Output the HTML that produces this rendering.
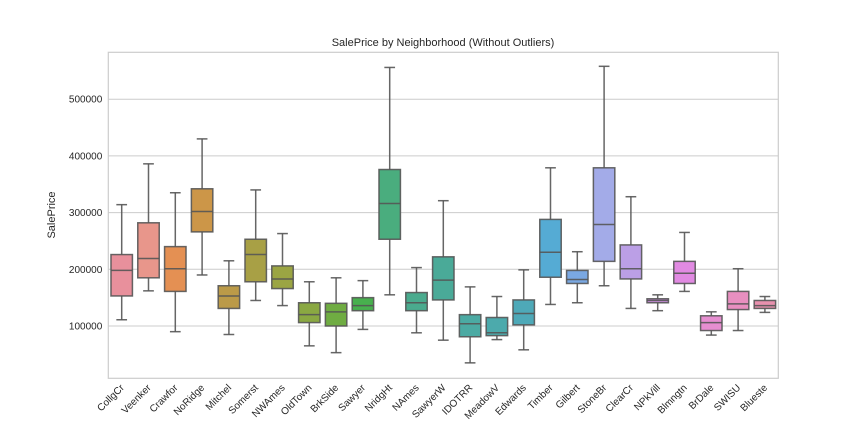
<!DOCTYPE html>
<html><head><meta charset="utf-8"><style>
body{margin:0;background:#fff;}
svg{display:block;font-family:"Liberation Sans",Arial,sans-serif;}
</style></head><body>
<svg id="chart" width="864" height="432"></svg>
<script>
const categories=["CollgCr","Veenker","Crawfor","NoRidge","Mitchel","Somerst","NWAmes","OldTown","BrkSide","Sawyer","NridgHt","NAmes","SawyerW","IDOTRR","MeadowV","Edwards","Timber","Gilbert","StoneBr","ClearCr","NPkVill","Blmngtn","BrDale","SWISU","Blueste"];
const whiskerLow=[111000,162000,90000,190000,85000,145000,136000,65000,53000,94000,155000,88000,75000,35000,76000,58000,138000,141000,171000,131000,127000,161000,84000,92000,124000];
const q1Values=[153000,185000,161000,266000,131000,178000,166000,106000,100000,127000,253000,127000,146000,81000,83000,102000,186000,175000,214000,183000,141000,175000,92000,129000,131000];
const medianValues=[198000,219000,201000,302000,153000,226000,183000,120000,125000,136000,316000,141000,181000,104000,88000,122000,230000,182000,279000,201000,145000,193000,106000,139000,136000];
const q3Values=[226000,282000,240000,342000,171000,253000,206000,141000,140000,150000,376000,159000,222000,120000,115000,146000,288000,198000,379000,243000,148000,214000,118000,161000,145000];
const whiskerHigh=[314000,386000,335000,430000,215000,340000,263000,178000,185000,180000,556000,203000,321000,169000,152000,199000,379000,231000,558000,328000,155000,265000,125000,201000,152000];
const yTicks=[100000,200000,300000,400000,500000];
const colors=["#e8909c","#e8968b","#e49053","#cc9648","#bb9a48","#a8a045","#9ba543","#8aa842","#6fac42","#48b04e","#4aad7e","#4aab8e","#4aaa98","#4baaa3","#4caaac","#4ea9b8","#55abd4","#7aa8e2","#a3abe8","#bb9fe6","#d392e6","#e18ae2","#e68ed0","#e88fc0","#e891ae"];

const NS="http://www.w3.org/2000/svg";
const svg=document.getElementById('chart');
const L=108.3,R=778.3,T=52.3,B=378.3;
const y=v=>326-(v-100000)*0.000567;
const band=(R-L)/categories.length;
const x=i=>L+band*(i+0.5);
function mk(tag,attrs,parent){const e=document.createElementNS(NS,tag);for(const k in attrs)e.setAttribute(k,attrs[k]);(parent||svg).appendChild(e);return e;}

const grid=mk('g',{});


yTicks.forEach(t=>{
  const ln=mk('line',{x1:L,x2:R,y1:y(t),y2:y(t),stroke:'#cccccc','stroke-width':1},grid);
  
  
  const tx=mk('text',{x:L-6,y:y(t)+3.5,'text-anchor':'end','font-size':10,fill:'#262626'});
  
  
  tx.textContent=t;
});
const frame=mk('rect',{x:L,y:T,width:R-L,height:B-T,fill:'none',stroke:'#cccccc','stroke-width':1.2});



const bw=band*0.8, cw=bw*0.5;
categories.forEach((c,i)=>{
  const g=mk('g',{stroke:'#555','stroke-width':1.5,'stroke-opacity':0.9});
  
  
  const cx=x(i);
  mk('line',{x1:cx,x2:cx,y1:y(whiskerLow[i]),y2:y(q1Values[i])},g);
  mk('line',{x1:cx,x2:cx,y1:y(q3Values[i]),y2:y(whiskerHigh[i])},g);
  mk('line',{x1:cx-cw/2,x2:cx+cw/2,y1:y(whiskerLow[i]),y2:y(whiskerLow[i])},g);
  mk('line',{x1:cx-cw/2,x2:cx+cw/2,y1:y(whiskerHigh[i]),y2:y(whiskerHigh[i])},g);
  mk('rect',{x:cx-bw/2,y:y(q3Values[i]),width:bw,height:y(q1Values[i])-y(q3Values[i]),fill:colors[i]},g);
  mk('line',{x1:cx-bw/2,x2:cx+bw/2,y1:y(medianValues[i]),y2:y(medianValues[i])},g);
  const tx=mk('text',{x:0,y:0,'text-anchor':'end','font-size':10,fill:'#262626',transform:`translate(${cx+3},${B+10}) rotate(-45)`});
  
  
  tx.textContent=c;
});
</script>
<svg style="position:absolute;left:0;top:0" width="864" height="432">
<text x="443" y="46" text-anchor="middle" font-size="11" fill="#262626" font-family="Liberation Sans, sans-serif">SalePrice by Neighborhood (Without Outliers)</text>
<text transform="translate(55,215) rotate(-90)" text-anchor="middle" font-size="11" fill="#262626" font-family="Liberation Sans, sans-serif">SalePrice</text>
</svg>
</body></html>
